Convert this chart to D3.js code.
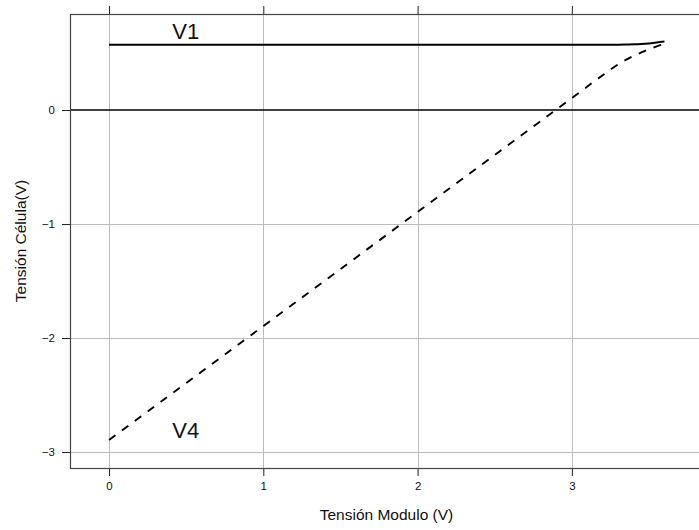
<!DOCTYPE html>
<html>
<head>
<meta charset="utf-8">
<script src="https://cdn.jsdelivr.net/npm/d3@7"></script>
<style>
  html, body { margin: 0; padding: 0; background: #fff; }
  svg { display: block; font-family: "Liberation Sans", Arial, Helvetica, sans-serif; }
</style>
</head>
<body>
<svg id="chart" width="699" height="530"></svg>
<script>
// ---- data ----
const xTicks = [0, 1, 2, 3];
const yTicks = [-3, -2, -1, 0];
const vModulo = [0, 0.5, 1, 1.5, 2, 2.5, 3, 3.2, 3.3, 3.35, 3.4, 3.45, 3.5, 3.55, 3.6];
const v1 = [0.573, 0.573, 0.573, 0.573, 0.573, 0.573, 0.573, 0.573, 0.573, 0.574, 0.576, 0.579, 0.584, 0.591, 0.600];
const v4 = [-2.895, -2.395, -1.895, -1.395, -0.895, -0.395, 0.105, 0.305, 0.400, 0.440, 0.475, 0.505, 0.533, 0.558, 0.580];
const seriesLabels = ["V1", "V4"];
const xTitle = "Tensión Modulo (V)";
const yTitle = "Tensión Célula(V)";

// ---- layout ----
const svg = d3.select("#chart");
const L = 70, R = 703, T = 14, B = 468;
const x = d3.scaleLinear().domain([-0.253, 3.85]).range([L, R]);
const y = d3.scaleLinear().domain([0.842, -3.14]).range([T, B]);

// grid
const grid = svg.append("g");
grid.selectAll("line.vx").data(xTicks).enter().append("line")
  .attr("x1", d => Math.round(x(d)) + 0.5).attr("x2", d => Math.round(x(d)) + 0.5)
  .attr("y1", T).attr("y2", B)
  .attr("stroke", "#bdbdbd").attr("stroke-width", 1);
grid.selectAll("line.hy").data(yTicks.filter(d => d !== 0)).enter().append("line")
  .attr("y1", d => Math.round(y(d)) + 0.5).attr("y2", d => Math.round(y(d)) + 0.5)
  .attr("x1", L).attr("x2", R)
  .attr("stroke", "#bdbdbd").attr("stroke-width", 1);

// zero line
svg.append("line")
  .attr("x1", L).attr("x2", R)
  .attr("y1", y(0)).attr("y2", y(0))
  .attr("stroke", "#000").attr("stroke-width", 1.6);

// axes
const axB = d3.axisBottom(x).tickValues(xTicks).tickSize(8).tickPadding(6).tickFormat(d3.format("d"));
const axT = d3.axisTop(x).tickValues(xTicks).tickSize(8).tickFormat("");
const axL = d3.axisLeft(y).tickValues(yTicks).tickSize(8).tickPadding(7)
  .tickFormat(d => d < 0 ? "\u2212" + Math.abs(d) : String(d));

function styleAxis(g) {
  g.select(".domain").remove();
  g.selectAll(".tick line").attr("stroke", "#222").attr("stroke-width", 1);
  g.selectAll(".tick text").attr("fill", "#111").attr("font-size", 11.5)
    .attr("font-family", "Liberation Sans, Arial, sans-serif");
}
svg.append("g").attr("transform", `translate(0,${B})`).call(axB).call(styleAxis);
svg.append("g").attr("transform", `translate(0,${T})`).call(axT).call(styleAxis);
svg.append("g").attr("transform", `translate(${L},0)`).call(axL).call(styleAxis);

// frame
svg.append("rect").attr("x", L + 0.5).attr("y", T + 0.5)
  .attr("width", R - L).attr("height", B - T)
  .attr("fill", "none").attr("stroke", "#444").attr("stroke-width", 1.2);

// series
const pts1 = vModulo.map((v, i) => [v, v1[i]]);
const pts4 = vModulo.map((v, i) => [v, v4[i]]);
const line = d3.line().x(d => x(d[0])).y(d => y(d[1])).curve(d3.curveMonotoneX);
svg.append("path").attr("d", line(pts1)).attr("fill", "none")
  .attr("stroke", "#000").attr("stroke-width", 2);
svg.append("path").attr("d", line(pts4)).attr("fill", "none")
  .attr("stroke", "#000").attr("stroke-width", 1.9).attr("stroke-dasharray", "8,8");

// series labels
svg.append("text").attr("x", x(0.41)).attr("y", y(0.62))
  .attr("font-size", 22).attr("fill", "#111").text(seriesLabels[0]);
svg.append("text").attr("x", x(0.41)).attr("y", y(-2.88))
  .attr("font-size", 22).attr("fill", "#111").text(seriesLabels[1]);

// axis titles
svg.append("text").attr("x", (L + R) / 2).attr("y", 520)
  .attr("text-anchor", "middle").attr("font-size", 15.5).attr("fill", "#111").text(xTitle);
svg.append("text").attr("transform", `translate(26,${(T + B) / 2}) rotate(-90)`)
  .attr("text-anchor", "middle").attr("font-size", 15.5).attr("fill", "#111").text(yTitle);
</script>
</body>
</html>
